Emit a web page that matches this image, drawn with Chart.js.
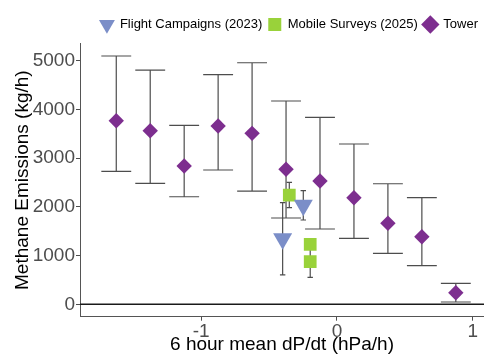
<!DOCTYPE html>
<html>
<head>
<meta charset="utf-8">
<script src="https://cdn.jsdelivr.net/npm/chart.js@4.4.1/dist/chart.umd.min.js"></script>
<style>
  html, body { margin: 0; padding: 0; background: #ffffff; }
  #wrap { width: 484px; height: 356px; }
</style>
</head>
<body>
<div id="wrap"><canvas id="c" width="484" height="356"></canvas></div>
<script>
// Binned 6-hour mean pressure tendency (hPa/h) and methane emission estimates (kg/h)
const towerX    = [-1.625, -1.375, -1.125, -0.875, -0.625, -0.375, -0.125, 0.125, 0.375, 0.625, 0.875];
const towerY    = [3770, 3565, 2840, 3661, 3511, 2772, 2532, 2189, 1663, 1388, 238];
const towerLow  = [2731, 2485, 2209, 2758, 2326, 1772, 1546, 1355, 1047, 793, 47];
const towerHigh = [5099, 4811, 3676, 4715, 4961, 4175, 3840, 3292, 2476, 2189, 431];

const flightX    = [-0.400, -0.248];
const flightY    = [1345, 2032];
const flightLow  = [602, 1731];
const flightHigh = [2086, 2333];

const mobileX    = [-0.351, -0.197, -0.197];
const mobileY    = [2244, 1232, 875];
const mobileLow  = [1984, 1130, 554];
const mobileHigh = [2505, 1335, 1196];

const xTicks = [-1, 0, 1];
const yTicks = [0, 1000, 2000, 3000, 4000, 5000];

const FONT = "'Liberation Sans', Arial, sans-serif";

function points(xs, ys, lo, hi) {
  return xs.map((x, i) => ({ x: x, y: ys[i], lo: lo[i], hi: hi[i] }));
}

// Vertical error bars with caps plus the horizontal zero line, drawn under the markers
const errorBars = {
  id: 'errorBars',
  beforeDatasetsDraw(chart) {
    const { ctx, chartArea, scales: { x, y } } = chart;
    ctx.save();
    ctx.strokeStyle = '#1a1a1a';
    ctx.lineWidth = 1.6;
    const y0 = y.getPixelForValue(0);
    ctx.beginPath();
    ctx.moveTo(chartArea.left, y0);
    ctx.lineTo(chartArea.right, y0);
    ctx.stroke();

    ctx.strokeStyle = '#4d4d4d';
    ctx.lineWidth = 1.2;
    chart.data.datasets.forEach((ds) => {
      const half = ds.capHalf;
      ds.data.forEach((p) => {
        const px = x.getPixelForValue(p.x);
        const pl = x.getPixelForValue(p.x - half);
        const pr = x.getPixelForValue(p.x + half);
        const yl = y.getPixelForValue(p.lo);
        const yh = y.getPixelForValue(p.hi);
        ctx.beginPath();
        ctx.moveTo(px, yh); ctx.lineTo(px, yl);
        ctx.moveTo(pl, yh); ctx.lineTo(pr, yh);
        ctx.moveTo(pl, yl); ctx.lineTo(pr, yl);
        ctx.stroke();
      });
    });
    ctx.restore();
  }
};

// Extra room under the legend row
const legendSpace = {
  id: 'legendSpace',
  afterInit(chart) {
    const lg = chart.legend;
    if (!lg) return;
    const fit = lg.fit.bind(lg);
    lg.fit = function () { fit(); this.height += 2.6; };
  }
};

new Chart(document.getElementById('c'), {
  type: 'scatter',
  data: {
    datasets: [
      {
        label: 'Flight Campaigns (2023)',
        data: points(flightX, flightY, flightLow, flightHigh),
        capHalf: 0.02,
        pointStyle: 'triangle',
        rotation: 180,
        radius: 11,
        backgroundColor: '#7b8ec8',
        borderColor: '#7b8ec8',
        borderWidth: 0
      },
      {
        label: 'Mobile Surveys (2025)',
        data: points(mobileX, mobileY, mobileLow, mobileHigh),
        capHalf: 0.02,
        pointStyle: 'rect',
        radius: 9,
        backgroundColor: '#99d23a',
        borderColor: '#99d23a',
        borderWidth: 0
      },
      {
        label: 'Tower',
        data: points(towerX, towerY, towerLow, towerHigh),
        capHalf: 0.11,
        pointStyle: 'rectRot',
        radius: 7.7,
        backgroundColor: '#7d2e8f',
        borderColor: '#7d2e8f',
        borderWidth: 0
      }
    ]
  },
  options: {
    responsive: false,
    devicePixelRatio: 1,
    animation: false,
    events: [],
    layout: { autoPadding: false, padding: { top: 12, left: 0, right: 0, bottom: 0 } },
    plugins: {
      tooltip: { enabled: false },
      legend: {
        position: 'top',
        align: 'end',
        labels: {
          usePointStyle: true,
          padding: 6,
          color: '#000000',
          font: { family: FONT, size: 13 }
        }
      }
    },
    scales: {
      x: {
        type: 'linear',
        min: -1.892,
        max: 1.0825,
        afterBuildTicks(scale) { scale.ticks = xTicks.map(v => ({ value: v })); },
        afterFit(scale) {
          scale.height = 39.3;
          scale.paddingLeft = 0;
          scale.paddingRight = 0;
        },
        ticks: {
          color: '#4d4d4d',
          font: { family: FONT, size: 19 },
          padding: 0,
          callback: (v) => String(v)
        },
        grid: { drawOnChartArea: false, drawTicks: true, tickLength: 4, color: '#4d4d4d', tickColor: '#4d4d4d' },
        border: { display: true, color: '#555555', width: 1 },
        title: {
          display: true,
          text: '6 hour mean dP/dt (hPa/h)',
          color: '#000000',
          font: { family: FONT, size: 19 },
          padding: 0
        }
      },
      y: {
        type: 'linear',
        min: -255,
        max: 5354,
        afterBuildTicks(scale) { scale.ticks = yTicks.map(v => ({ value: v })); },
        afterFit(scale) {
          scale.width = 80;
          scale.paddingTop = 0;
          scale.paddingBottom = 0;
        },
        ticks: {
          color: '#4d4d4d',
          font: { family: FONT, size: 19 },
          padding: 1,
          callback: (v) => String(v)
        },
        grid: { drawOnChartArea: false, drawTicks: true, tickLength: 4, color: '#4d4d4d', tickColor: '#4d4d4d' },
        border: { display: true, color: '#555555', width: 1 },
        title: {
          display: true,
          text: 'Methane Emissions (kg/h)',
          color: '#000000',
          font: { family: FONT, size: 19 },
          padding: { top: 11, bottom: 0 }
        }
      }
    }
  },
  plugins: [errorBars, legendSpace]
});
</script>
</body>
</html>
